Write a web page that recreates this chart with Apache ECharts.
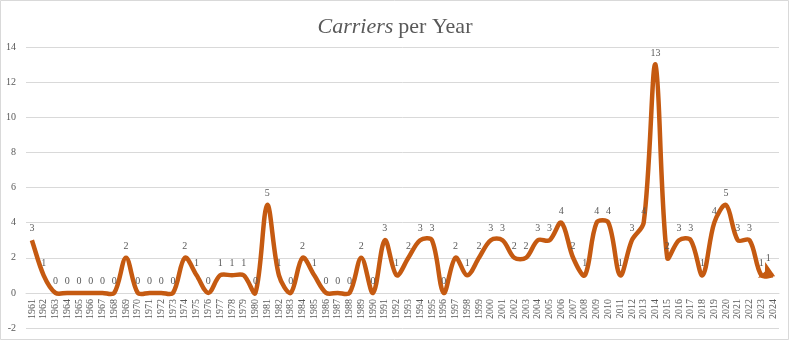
<!DOCTYPE html>
<html>
<head>
<meta charset="utf-8">
<script src="https://cdn.jsdelivr.net/npm/echarts@6/dist/echarts.min.js"></script>
<style>
  html, body { margin: 0; padding: 0; background: #fff; }
  #chart { width: 790px; height: 341px; }
</style>
</head>
<body>
<div id="chart"></div>
<script>
// Years 1961–2024
const years = [];
for (let y = 1961; y <= 2024; y++) years.push(String(y));

// Number of carriers per year
const carriers = [
  3, 1, 0, 0, 0, 0, 0, 0, 2, 0,   // 1961–1970
  0, 0, 0, 2, 1, 0, 1, 1, 1, 0,   // 1971–1980
  5, 1, 0, 2, 1, 0, 0, 0, 2, 0,   // 1981–1990
  3, 1, 2, 3, 3, 0, 2, 1, 2, 3,   // 1991–2000
  3, 2, 2, 3, 3, 4, 2, 1, 4, 4,   // 2001–2010
  1, 3, 4, 13, 2, 3, 3, 1, 4, 5,  // 2011–2020
  3, 3, 1, 1                      // 2021–2024
];

const yTicks = { min: -2, max: 14, interval: 2 };

const serif = '"Liberation Serif", "DejaVu Serif", serif';
const textGray = '#595959';
const lineColor = '#C55A11';

// Smooth curve through every point; tangents are split between the two
// neighbouring segments in proportion to their pixel lengths.
function renderCurve(params, api) {
  if (params.dataIndex !== 0) return null;
  const pts = carriers.map((v, i) => api.coord([i, v]));
  const n = pts.length;
  const dist = (a, b) => Math.hypot(b[0] - a[0], b[1] - a[1]);
  const k = 1 / 3;
  const cpIn = [], cpOut = [];
  for (let i = 0; i < n; i++) {
    const p = pts[i];
    const prev = pts[Math.max(i - 1, 0)];
    const next = pts[Math.min(i + 1, n - 1)];
    const tx = next[0] - prev[0];
    const ty = next[1] - prev[1];
    const lp = dist(prev, p);
    const ln = dist(p, next);
    const sum = lp + ln || 1;
    cpIn.push([p[0] - tx * k * (lp / sum), p[1] - ty * k * (lp / sum)]);
    cpOut.push([p[0] + tx * k * (ln / sum), p[1] + ty * k * (ln / sum)]);
  }
  let d = 'M' + pts[0][0] + ',' + pts[0][1];
  for (let i = 0; i < n - 1; i++) {
    const c1 = cpOut[i], c2 = cpIn[i + 1], p2 = pts[i + 1];
    d += ' C' + c1[0] + ',' + c1[1] + ' ' + c2[0] + ',' + c2[1] + ' ' + p2[0] + ',' + p2[1];
  }
  return {
    type: 'path',
    shape: { pathData: d },
    style: {
      fill: 'none',
      stroke: lineColor,
      lineWidth: 4.5,
      lineJoin: 'round',
      lineCap: 'butt'
    }
  };
}

const labelData = carriers.map((v, i) => {
  if (i === carriers.length - 1) {
    return {
      value: v,
      symbol: 'arrow',
      symbolSize: [13, 15],
      symbolRotate: -115,
      symbolOffset: [2, 1],
      itemStyle: { color: lineColor },
      label: { distance: -1 }
    };
  }
  return v;
});

const chart = echarts.init(document.getElementById('chart'), null, { renderer: 'canvas' });
chart.setOption({
  animation: false,
  backgroundColor: '#fff',
  title: {
    text: '{i|Carriers} {n|per Year}',
    left: 'center',
    top: 11,
    textStyle: {
      rich: {
        i: { fontFamily: serif, fontStyle: 'italic', fontWeight: 'normal', fontSize: 22, color: textGray },
        n: { fontFamily: serif, fontWeight: 'normal', fontSize: 22, color: textGray }
      }
    }
  },
  graphic: [{
    type: 'rect',
    shape: { x: 0.5, y: 0.5, width: 788, height: 339 },
    style: { fill: 'none', stroke: '#d9d9d9', lineWidth: 1 },
    silent: true
  }],
  grid: { left: 26, right: 11, top: 47, bottom: 13, containLabel: false, outerBoundsMode: 'none' },
  xAxis: {
    type: 'category',
    data: years,
    boundaryGap: true,
    position: 'bottom',
    axisLine: { onZero: false, lineStyle: { color: '#d9d9d9' } },
    axisTick: { show: false },
    axisLabel: {
      rotate: 90,
      interval: 0,
      fontFamily: serif,
      fontSize: 10,
      color: textGray,
      margin: 6
    }
  },
  yAxis: {
    type: 'value',
    min: yTicks.min,
    max: yTicks.max,
    interval: yTicks.interval,
    axisLine: { show: false },
    axisTick: { show: false },
    splitLine: { lineStyle: { color: '#d9d9d9', width: 1 } },
    axisLabel: { fontFamily: serif, fontSize: 10, color: textGray, margin: 10 }
  },
  series: [
    {
      type: 'custom',
      data: carriers.map((v, i) => [i, v]),
      renderItem: renderCurve,
      silent: true,
      z: 2
    },
    {
      type: 'line',
      data: labelData,
      symbol: 'circle',
      symbolSize: 1,
      showSymbol: true,
      lineStyle: { opacity: 0 },
      itemStyle: { color: 'rgba(0,0,0,0)' },
      label: {
        show: true,
        position: 'top',
        distance: 6,
        fontFamily: serif,
        fontSize: 10,
        color: textGray
      },
      labelLayout: { hideOverlap: false },
      z: 3
    }
  ]
});

// Lift the category axis so its labels hang from the zero line
const zeroY = chart.convertToPixel({ yAxisIndex: 0 }, 0);
const floorY = chart.convertToPixel({ yAxisIndex: 0 }, yTicks.min);
chart.setOption({ xAxis: { offset: -(floorY - zeroY) } });
</script>
</body>
</html>
